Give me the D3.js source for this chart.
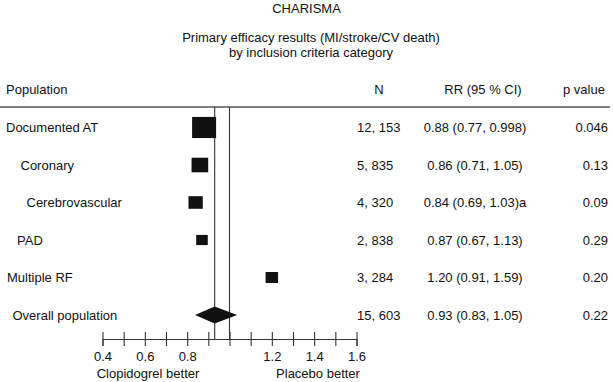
<!DOCTYPE html>
<html>
<head>
<meta charset="utf-8">
<script src="https://cdn.jsdelivr.net/npm/d3@7"></script>
<style>
  html, body { margin: 0; padding: 0; background: #fff; }
  svg { display: block; font-family: "Liberation Sans", Arial, sans-serif; }
</style>
</head>
<body>
<svg id="chart" width="613" height="382"></svg>
<script>
// ---- data ----
const populations = ["Documented AT", "Coronary", "Cerebrovascular", "PAD", "Multiple RF", "Overall population"];
const nLabels = ["12, 153", "5, 835", "4, 320", "2, 838", "3, 284", "15, 603"];
const nValues = [12153, 5835, 4320, 2838, 3284, 15603];
const rr = [0.88, 0.86, 0.84, 0.87, 1.20, 0.93];
const ciLow = [0.77, 0.71, 0.69, 0.67, 0.91, 0.83];
const ciHigh = [0.998, 1.05, 1.03, 1.13, 1.59, 1.05];
const rrLabels = ["0.88 (0.77, 0.998)", "0.86 (0.71, 1.05)", "0.84 (0.69, 1.03)a", "0.87 (0.67, 1.13)", "1.20 (0.91, 1.59)", "0.93 (0.83, 1.05)"];
const pLabels = ["0.046", "0.13", "0.09", "0.29", "0.20", "0.22"];
const tickValues = [0.4, 0.5, 0.6, 0.7, 0.8, 0.9, 1.0, 1.1, 1.2, 1.3, 1.4, 1.5, 1.6];
const tickLabels = ["0.4", "0.6", "0.8", "1.2", "1.4", "1.6"];
const refValues = [0.93, 1.0];
const title = "CHARISMA";
const subtitle = ["Primary efficacy results (MI/stroke/CV death)", "by inclusion criteria category"];
const headers = ["Population", "N", "RR (95 % CI)", "p value"];
const favourLabels = ["Clopidogrel better", "Placebo better"];

// ---- layout ----
const svg = d3.select("#chart");
const textColor = "#111";
const fontSize = 13;
const labelIndent = [6, 20.5, 26.5, 17, 7, 12.5];
const overallIndex = 5;

const x = d3.scaleLinear().domain([0.4, 1.6]).range([102.5, 356.5]);
const y = d3.scalePoint().domain(populations).range([127.5, 315]);
const size = d3.scaleSqrt().domain([0, 12153]).range([0, 24]);
const axisY = 339;
const ruleY = 107;

// title
svg.append("text").attr("x", 306.5).attr("y", 13).attr("text-anchor", "middle")
  .attr("font-size", fontSize).attr("fill", textColor).text(title);
svg.selectAll("text.sub").data(subtitle).join("text").attr("class", "sub")
  .attr("x", 311).attr("y", (d, i) => 42 + i * 14.5).attr("text-anchor", "middle")
  .attr("font-size", fontSize).attr("fill", textColor).text(d => d);

// headers
const headerX = [6, 379, 483, 584];
const headerAnchor = ["start", "middle", "middle", "middle"];
svg.selectAll("text.hdr").data(headers).join("text").attr("class", "hdr")
  .attr("x", (d, i) => headerX[i]).attr("y", 94)
  .attr("text-anchor", (d, i) => headerAnchor[i])
  .attr("font-size", fontSize).attr("fill", textColor).text(d => d);

// rule
svg.append("line").attr("x1", 0).attr("x2", 610).attr("y1", ruleY).attr("y2", ruleY)
  .attr("stroke", "#555").attr("stroke-width", 1.6);

// reference lines
svg.selectAll("line.ref").data(refValues).join("line").attr("class", "ref")
  .attr("x1", d => x(d)).attr("x2", d => x(d))
  .attr("y1", ruleY).attr("y2", axisY)
  .attr("stroke", "#333").attr("stroke-width", 1.1);

// axis
const axis = d3.axisBottom(x).tickValues(tickValues).tickSizeOuter(0).tickSize(7)
  .tickFormat(d => tickLabels.includes(d3.format(".1f")(d)) ? d3.format(".1f")(d) : "");
const gAxis = svg.append("g").attr("transform", `translate(0,${axisY})`).call(axis);
gAxis.select(".domain").attr("stroke", "#333").attr("stroke-width", 1.1);
gAxis.selectAll(".tick line").attr("y1", -7).attr("y2", 7).attr("stroke", "#333").attr("stroke-width", 1.1);
gAxis.selectAll(".tick text").attr("y", 22).attr("dy", null)
  .attr("font-size", fontSize).attr("font-family", "Liberation Sans, Arial, sans-serif").attr("fill", textColor);

// favour labels
const favourX = [148, 318];
svg.selectAll("text.fav").data(favourLabels).join("text").attr("class", "fav")
  .attr("x", (d, i) => favourX[i]).attr("y", 378).attr("text-anchor", "middle")
  .attr("font-size", fontSize).attr("fill", textColor).text(d => d);

// row texts
const rows = populations.map((p, i) => ({ p, i }));
svg.selectAll("text.pop").data(rows).join("text").attr("class", "pop")
  .attr("x", d => labelIndent[d.i]).attr("y", d => y(d.p) + 4.6)
  .attr("font-size", fontSize).attr("fill", textColor).text(d => d.p);
svg.selectAll("text.n").data(rows).join("text").attr("class", "n")
  .attr("x", 357).attr("y", d => y(d.p) + 4.6)
  .attr("font-size", fontSize).attr("fill", textColor).text(d => nLabels[d.i]);
svg.selectAll("text.rr").data(rows).join("text").attr("class", "rr")
  .attr("x", 475).attr("y", d => y(d.p) + 4.6).attr("text-anchor", "middle")
  .attr("font-size", fontSize).attr("fill", textColor).text(d => rrLabels[d.i]);
svg.selectAll("text.pv").data(rows).join("text").attr("class", "pv")
  .attr("x", 608).attr("y", d => y(d.p) + 4.6).attr("text-anchor", "end")
  .attr("font-size", fontSize).attr("fill", textColor).text(d => pLabels[d.i]);

// squares
const sq = rows.filter(d => d.i !== overallIndex);
svg.selectAll("rect.sq").data(sq).join("rect").attr("class", "sq")
  .attr("x", d => x(rr[d.i]) - size(nValues[d.i]) / 2)
  .attr("y", d => y(d.p) - size(nValues[d.i]) * 0.88 / 2)
  .attr("width", d => size(nValues[d.i]))
  .attr("height", d => size(nValues[d.i]) * 0.88)
  .attr("fill", "#111");

// diamond
const o = overallIndex;
const cy = y(populations[o]);
const diamond = [[x(ciLow[o]) + 1.5, cy], [x(rr[o]), cy - 8.5], [x(ciHigh[o]) - 3, cy], [x(rr[o]), cy + 8.5]];
svg.append("path").attr("d", d3.line()(diamond) + "Z").attr("fill", "#111");
</script>
</body>
</html>
